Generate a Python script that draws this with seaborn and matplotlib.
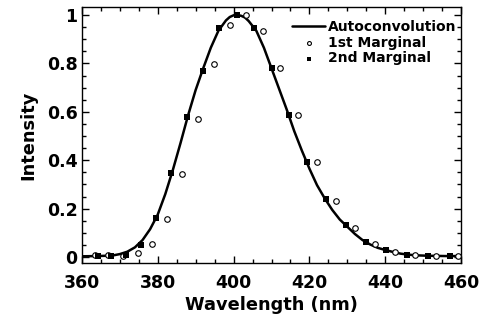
import numpy as np
import pandas as pd
import seaborn as sns
import matplotlib.pyplot as plt
from matplotlib.ticker import MultipleLocator

sns.set_theme(style="ticks")
plt.rcParams['font.family'] = ['DejaVu Sans']
plt.rcParams['font.weight'] = 'bold'
plt.rcParams['text.color'] = 'black'
plt.rcParams['axes.labelcolor'] = 'black'
plt.rcParams['xtick.color'] = 'black'
plt.rcParams['ytick.color'] = 'black'

# Autoconvolution curve
auto_wl = [360, 364, 368, 370, 372, 374, 376, 378, 380, 382, 384, 386, 388, 390,
           392, 394, 396, 398, 399, 400, 401, 402, 403, 404, 406, 408, 410, 412,
           414, 416, 418, 420, 422, 424, 426, 428, 430, 432, 434, 436, 438, 440,
           442, 444, 446, 448, 452, 456, 460]
auto_int = [0.003, 0.004, 0.006, 0.012, 0.022, 0.04, 0.07, 0.115, 0.175, 0.26, 0.36,
            0.47, 0.585, 0.69, 0.78, 0.865, 0.935, 0.978, 0.992, 0.999, 1.0, 0.997,
            0.99, 0.975, 0.935, 0.865, 0.78, 0.695, 0.61, 0.52, 0.44, 0.365, 0.297,
            0.243, 0.195, 0.155, 0.125, 0.095, 0.07, 0.052, 0.038, 0.029, 0.021,
            0.014, 0.01, 0.007, 0.005, 0.004, 0.004]

# 1st marginal (open circles)
m1_wl = [363.4, 366.9, 370.9, 374.7, 378.6, 382.5, 386.5, 390.5, 394.8, 399.0,
         403.3, 407.8, 412.2, 417.1, 421.9, 426.9, 432.0, 437.3, 442.6, 447.9,
         453.4, 459.1]
m1_int = [0.008, 0.008, 0.004, 0.015, 0.055, 0.157, 0.342, 0.57, 0.797, 0.959,
          1.0, 0.935, 0.78, 0.587, 0.392, 0.231, 0.119, 0.054, 0.022, 0.01,
          0.005, 0.005]

# 2nd marginal (filled squares)
m2_wl = [364.3, 367.8, 371.6, 375.5, 379.5, 383.6, 387.8, 392.0, 396.2, 400.8,
         405.4, 410.0, 414.7, 419.4, 424.3, 429.7, 434.9, 440.2, 445.7, 451.3,
         457.1]
m2_int = [0.004, 0.004, 0.008, 0.05, 0.16, 0.348, 0.577, 0.77, 0.945, 1.0,
          0.945, 0.78, 0.587, 0.392, 0.238, 0.131, 0.063, 0.029, 0.01, 0.005,
          0.005]

fig = plt.figure(figsize=(4.87, 3.22), dpi=100)
ax = fig.add_axes([0.168, 0.183, 0.779, 0.795])

sns.lineplot(x=auto_wl, y=auto_int, ax=ax, color='black', linewidth=1.8,
             label='Autoconvolution')
sns.scatterplot(x=m1_wl, y=m1_int, ax=ax, marker='o', s=16, facecolor='white',
                edgecolor='black', linewidth=0.8, label='1st Marginal', zorder=3)
sns.scatterplot(x=m2_wl, y=m2_int, ax=ax, marker='s', s=18, color='black',
                edgecolor='black', linewidth=0, label='2nd Marginal', zorder=4)

ax.set_xlim(360, 460)
ax.set_ylim(-0.025, 1.033)
ax.xaxis.set_major_locator(MultipleLocator(20))
ax.xaxis.set_minor_locator(MultipleLocator(5))
ax.yaxis.set_minor_locator(MultipleLocator(0.05))
ax.set_yticks([0, 0.2, 0.4, 0.6, 0.8, 1.0])
ax.set_yticklabels(['0', '0.2', '0.4', '0.6', '0.8', '1'])
ax.tick_params(which='both', direction='in', top=True, right=True,
               labelsize=12.5, width=1, color='black')
ax.tick_params(which='major', length=5)
ax.tick_params(which='minor', length=3)
ax.tick_params(axis='x', which='major', pad=8)
ax.tick_params(axis='y', which='major', pad=3)
for s in ax.spines.values():
    s.set_linewidth(1)
    s.set_color('black')

ax.set_xlabel('Wavelength (nm)', fontsize=12.8, fontweight='bold', labelpad=3)
ax.set_ylabel('Intensity', fontsize=12.8, fontweight='bold', labelpad=7)

leg = ax.legend(loc='upper right', bbox_to_anchor=(1.012, 0.985), frameon=False,
                handlelength=2.4, handletextpad=0.2, labelspacing=0.12,
                borderaxespad=0.45, borderpad=0.2, markerscale=0.7,
                prop={'weight': 'bold', 'size': 10})

fig.savefig('out.png', dpi=100)
